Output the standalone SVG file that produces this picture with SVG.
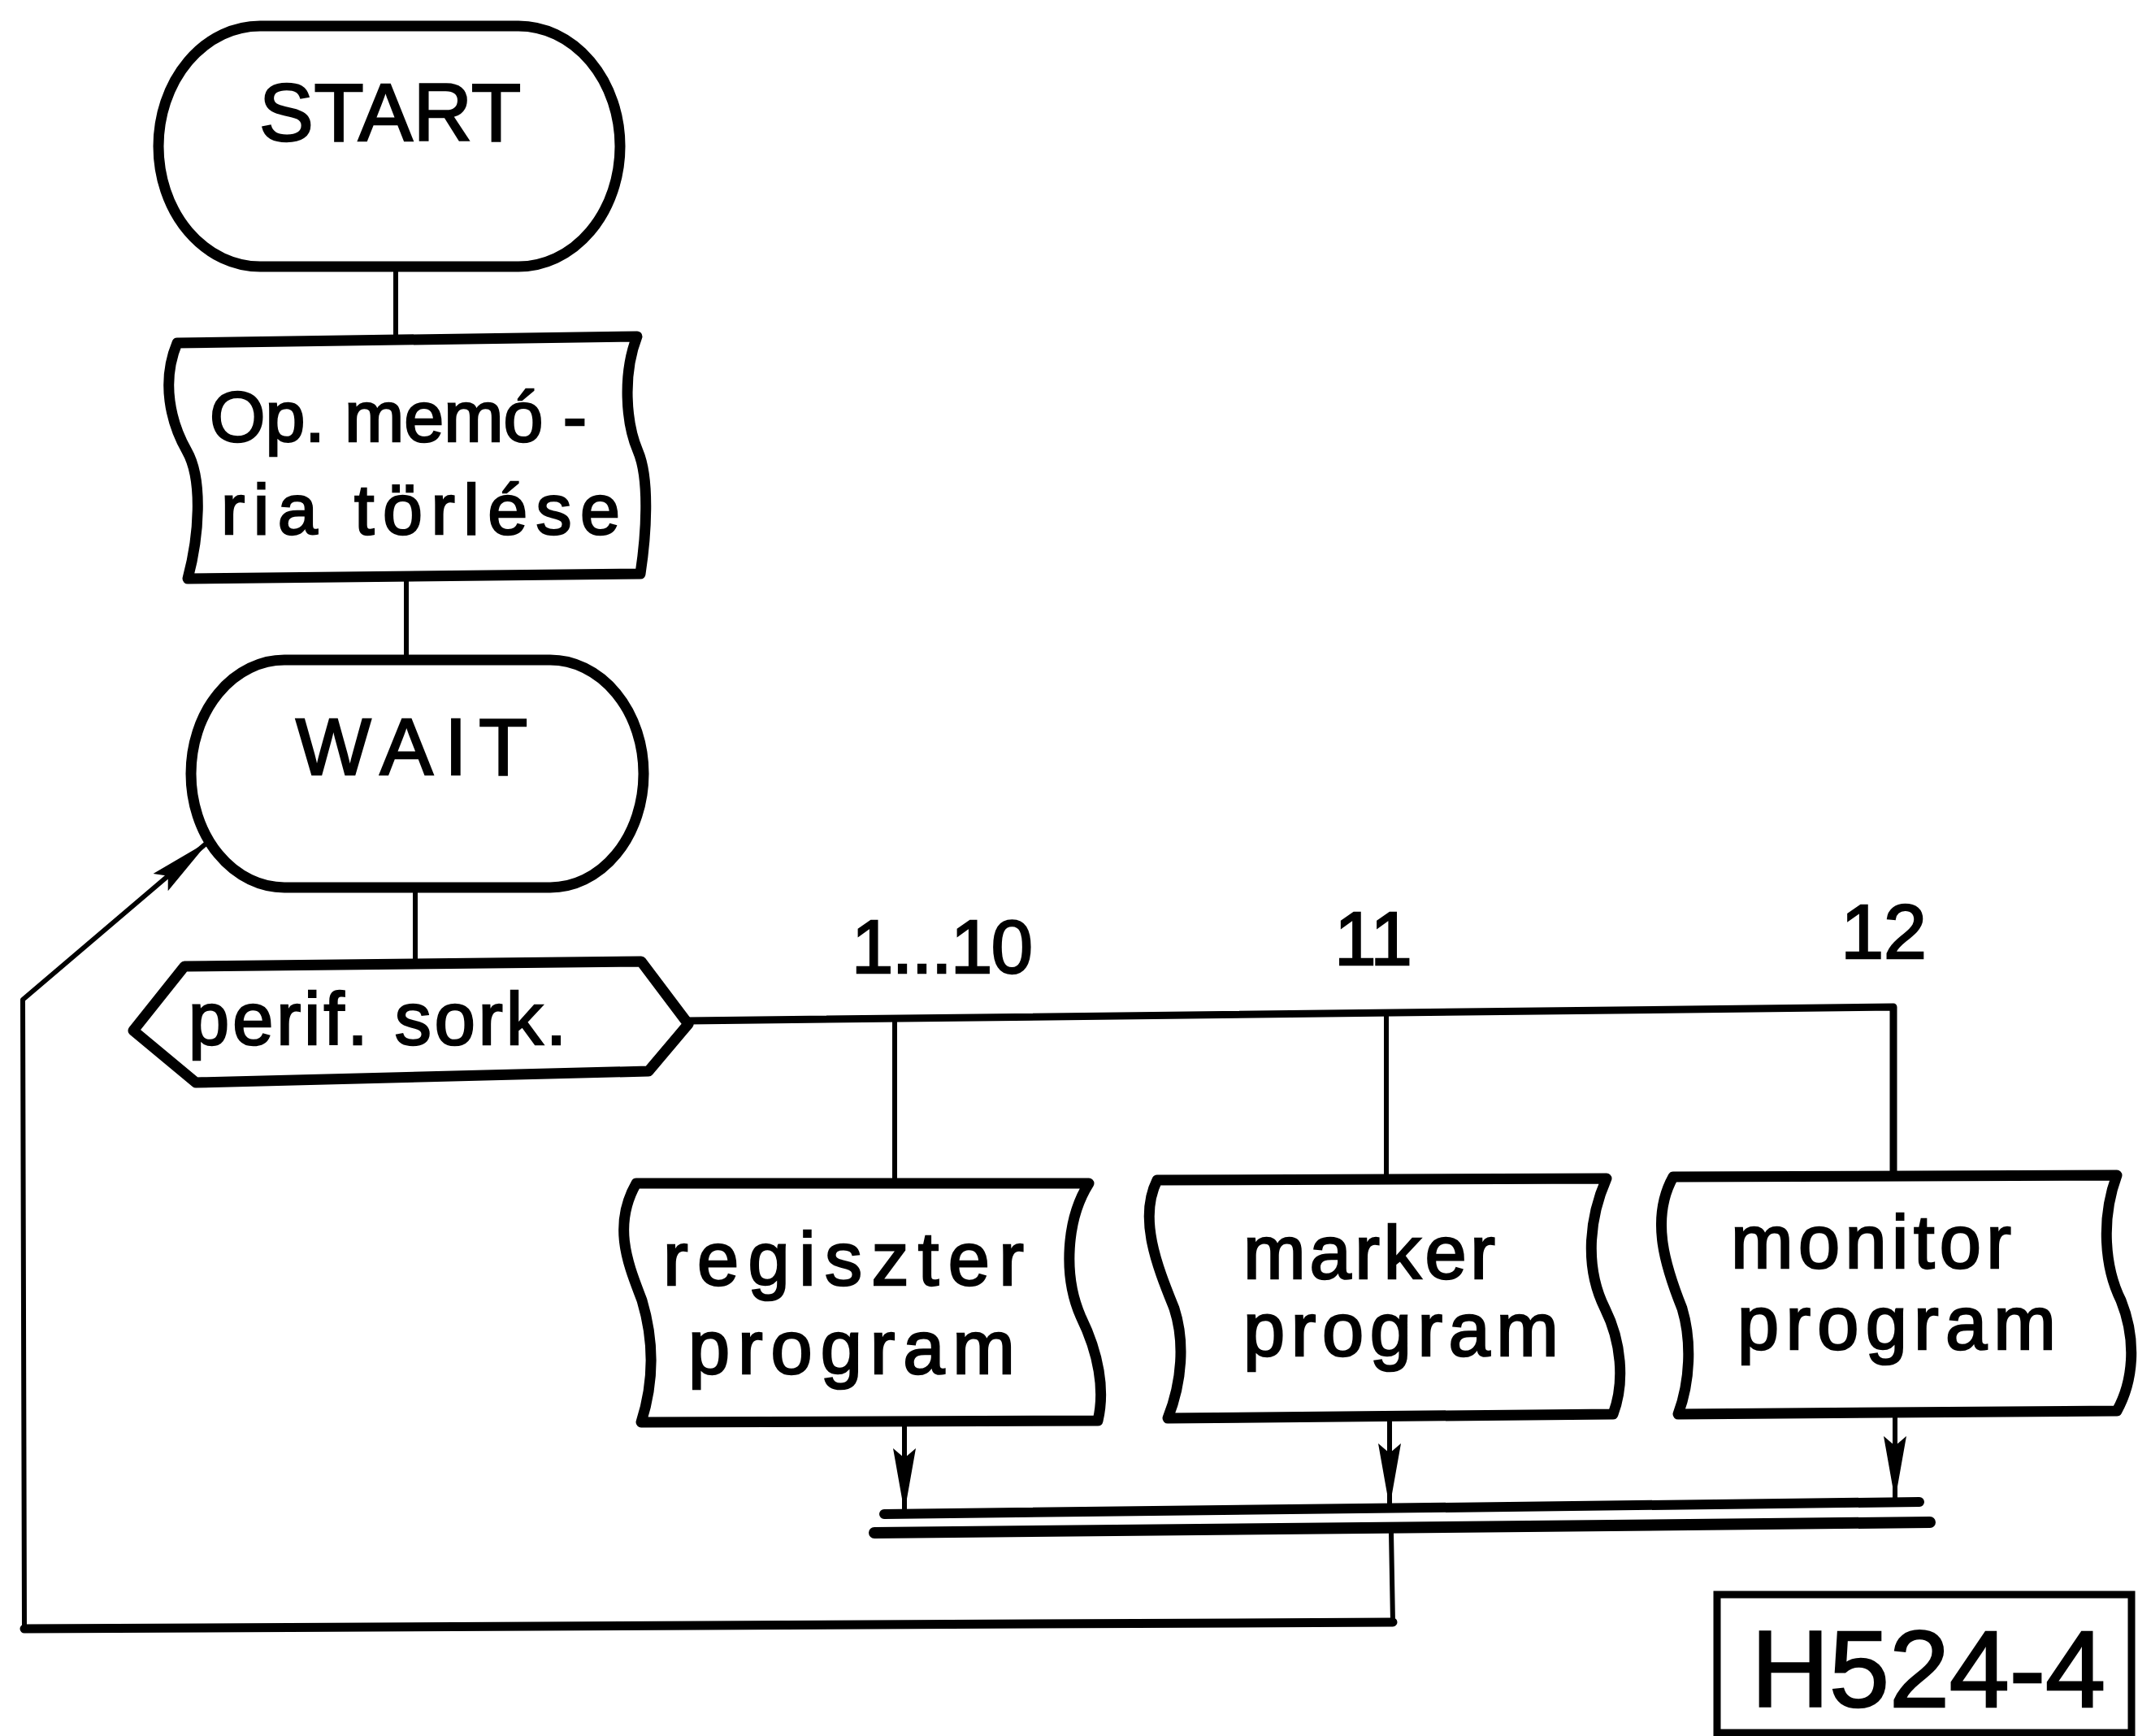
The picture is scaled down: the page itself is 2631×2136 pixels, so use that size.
<svg xmlns="http://www.w3.org/2000/svg" width="2631" height="2136" viewBox="0 0 2631 2136">
<style>
.node{fill:#fff;stroke:#000;stroke-width:13;stroke-linejoin:round}
.c{fill:none;stroke:#000;stroke-width:6;stroke-linecap:round;stroke-linejoin:round}
.t{font-family:"Liberation Sans",Arial,sans-serif;fill:#000;stroke:#000;stroke-width:2.5}
</style>
<defs>
<marker id="ah" markerUnits="userSpaceOnUse" viewBox="0 0 80 32" markerWidth="80" markerHeight="32" refX="78" refY="16" orient="auto">
<path d="M0,2 L79,16 L0,30 L12,16 Z" fill="#000"/>
</marker>
</defs>
<rect width="2631" height="2136" fill="#fff"/>
<g id="connectors">
<line class="c" x1="487" y1="328" x2="487" y2="418"/>
<line class="c" x1="500" y1="712" x2="500" y2="812"/>
<line class="c" x1="511" y1="1092" x2="511" y2="1186"/>
<polyline class="c" style="stroke-width:9" points="847,1256 2330,1239 2330,1447"/>
<line class="c" x1="1101" y1="1254" x2="1101" y2="1456"/>
<line class="c" x1="1706" y1="1247" x2="1706" y2="1451"/>
<line class="c" x1="1113" y1="1748" x2="1113" y2="1860" marker-end="url(#ah)"/>
<line class="c" x1="1710" y1="1742" x2="1710" y2="1854" marker-end="url(#ah)"/>
<line class="c" x1="2332" y1="1737" x2="2332" y2="1845" marker-end="url(#ah)"/>
<line class="c" style="stroke-width:12" x1="1088" y1="1863" x2="2362" y2="1848"/>
<line class="c" style="stroke-width:14" x1="1076" y1="1886" x2="2375" y2="1873"/>
<polyline class="c" points="1712,1886 1714,1996"/>
<polyline class="c" style="stroke-width:11" points="1714,1996 30,2004"/>
<polyline class="c" points="30,2004 28,1230 257,1035" marker-end="url(#ah)"/>
</g>
<g id="start">
<rect class="node" x="195" y="32" width="568" height="296" rx="125" ry="148"/>
<text class="t" x="319" y="173" font-size="100" textLength="322" lengthAdjust="spacing">START</text>
</g>
<g id="op-memoria">
<path class="node" d="M218,422 L784,414 C766,460 770,520 785,555 C800,590 795,660 788,706 L231,712 C245,660 250,590 230,555 C210,520 198,470 218,422 Z"/>
<text class="t" x="258" y="543" font-size="88" textLength="464" lengthAdjust="spacing">Op. memó -</text>
<text class="t" x="272" y="657" font-size="88" textLength="491" lengthAdjust="spacing">ria törlése</text>
</g>
<g id="wait">
<rect class="node" x="235" y="812" width="557" height="280" rx="115" ry="140"/>
<text class="t" x="364" y="953" font-size="98" textLength="285" lengthAdjust="spacing">WAIT</text>
</g>
<g id="perif">
<path class="node" d="M227,1189 L789,1183 L847,1260 L798,1318 L241,1332 L164,1268 Z"/>
<text class="t" x="232" y="1285" font-size="90" textLength="465" lengthAdjust="spacing">perif. sork.</text>
</g>
<g id="labels">
<text class="t" x="1048" y="1197" font-size="92" textLength="223" lengthAdjust="spacing">1...10</text>
<text class="t" x="1690" y="1187" font-size="92" text-anchor="middle">11</text>
<text class="t" x="2318" y="1179" font-size="95" text-anchor="middle">12</text>
</g>
<g id="regiszter">
<path class="node" d="M783,1456 L1340,1456 C1312,1500 1308,1570 1330,1620 C1352,1665 1360,1710 1351,1748 L789,1750 C805,1700 805,1650 790,1600 C775,1560 752,1510 783,1456 Z"/>
<text class="t" x="816" y="1581" font-size="92" textLength="444" lengthAdjust="spacing">regiszter</text>
<text class="t" x="847" y="1690" font-size="92" textLength="402" lengthAdjust="spacing">program</text>
</g>
<g id="marker">
<path class="node" d="M1424,1452 L1977,1450 C1955,1500 1950,1560 1975,1610 C1995,1650 2000,1700 1985,1740 L1437,1745 C1455,1700 1458,1650 1445,1610 C1425,1560 1400,1500 1424,1452 Z"/>
<text class="t" x="1530" y="1573" font-size="92" textLength="310" lengthAdjust="spacing">marker</text>
<text class="t" x="1530" y="1668" font-size="92" textLength="388" lengthAdjust="spacing">program</text>
</g>
<g id="monitor">
<path class="node" d="M2059,1448 L2605,1446 C2585,1500 2590,1560 2610,1600 C2630,1650 2625,1700 2605,1736 L2065,1740 C2080,1700 2082,1650 2070,1610 C2050,1560 2030,1500 2059,1448 Z"/>
<text class="t" x="2130" y="1560" font-size="92" textLength="345" lengthAdjust="spacing">monitor</text>
<text class="t" x="2138" y="1660" font-size="92" textLength="392" lengthAdjust="spacing">program</text>
</g>
<g id="h524">
<rect x="2113" y="1962" width="510" height="170" fill="#fff" stroke="#000" stroke-width="9"/>
<text class="t" x="2155" y="2100" font-size="133" textLength="436" lengthAdjust="spacing">H524-4</text>
</g>
</svg>
